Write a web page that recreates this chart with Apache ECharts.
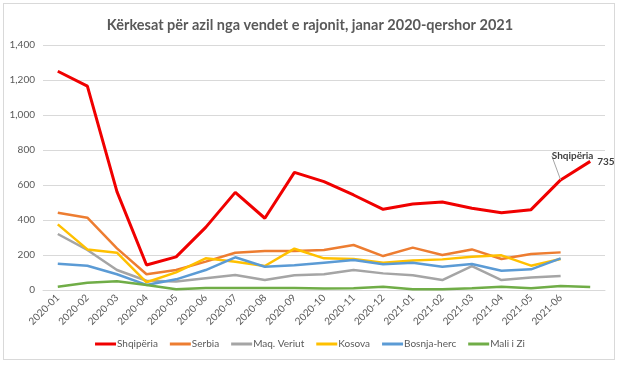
<!DOCTYPE html>
<html>
<head>
<meta charset="utf-8">
<script src="https://cdn.jsdelivr.net/npm/echarts@6/dist/echarts.min.js"></script>
<style>
html,body{margin:0;padding:0;background:#fff;}
#frame{position:absolute;left:3px;top:3px;width:612px;height:357px;border:1px solid #d9d9d9;box-sizing:border-box;}
#chart{position:absolute;left:0;top:0;width:620px;height:365px;}
</style>
</head>
<body>
<div id="frame"></div>
<div id="chart"></div>
<script>
const categories = ['2020-01','2020-02','2020-03','2020-04','2020-05','2020-06','2020-07','2020-08','2020-09','2020-10','2020-11','2020-12','2021-01','2021-02','2021-03','2021-04','2021-05','2021-06',''];
const shqiperia = [1250,1165,562,143,189,358,558,410,672,619,543,461,491,503,467,442,459,629,735];
const serbia = [442,413,238,90,114,162,213,223,223,229,257,194,242,200,232,177,206,215];
const maqVeriut = [320,229,114,53,48,67,86,57,84,90,114,95,84,57,137,57,72,80];
const kosova = [375,232,213,44,101,181,162,137,236,181,177,156,168,175,190,198,139,177];
const bosnja = [150,139,90,29,61,114,187,133,141,156,171,147,156,133,149,110,118,181];
const maliZi = [19,42,50,29,4,11,11,11,11,8,10,19,4,4,10,19,10,23,17];
const seriesNames = ['Shqipëria','Serbia','Maq. Veriut','Kosova','Bosnja-herc','Mali i Zi'];
const colors = ['#f00000','#ed7d31','#a5a5a5','#ffc000','#5b9bd5','#70ad47'];
const yTicks = {min:0, max:1400, interval:200};

const FONT = 'Lato, "Open Sans", sans-serif';
const redData = shqiperia.map((v,i)=>{
  if(i===shqiperia.length-2){
    return {value:v, label:{show:true, formatter:seriesNames[0], position:'top', distance:2, fontSize:10, fontWeight:'bold', color:'#404040', fontFamily:FONT}, labelLine:{show:true, lineStyle:{color:'#a5a5a5', width:1}}};
  }
  if(i===shqiperia.length-1){
    return {value:v, label:{show:true, formatter:'{c}', position:'right', distance:7, fontSize:10, fontWeight:'bold', color:'#404040', fontFamily:FONT}};
  }
  return v;
});
const allData=[redData,serbia,maqVeriut,kosova,bosnja,maliZi];

const chart = echarts.init(document.getElementById('chart'), null, {renderer:'canvas'});
chart.setOption({
  animation:false,
  title:{text:'Kërkesat për azil nga vendet e rajonit, janar 2020-qershor 2021', left:'center', top:13,
    textStyle:{fontFamily:FONT, fontSize:14.5, fontWeight:'bold', color:'#595959'}},
  grid:{left:43, right:15, top:45, bottom:75, containLabel:false},
  legend:{bottom:11, left:'center', itemWidth:21, itemHeight:3, itemGap:12, icon:'rect',
    textStyle:{fontFamily:FONT, fontSize:10, color:'#595959', padding:[0,0,0,-4]},
    data:seriesNames},
  xAxis:{type:'category', data:categories, boundaryGap:true,
    axisLine:{show:true, lineStyle:{color:'#d9d9d9'}}, axisTick:{show:false},
    axisLabel:{rotate:45, interval:0, fontFamily:FONT, fontSize:10, color:'#595959', margin:6}},
  yAxis:{type:'value', min:yTicks.min, max:yTicks.max, interval:yTicks.interval,
    axisLine:{show:false}, axisTick:{show:false},
    splitLine:{lineStyle:{color:'#d9d9d9', width:1}},
    axisLabel:{fontFamily:FONT, fontSize:10, color:'#595959', margin:8,
      formatter:v=>v.toLocaleString('en-US')}},
  series:allData.map((d,i)=>({
    name:seriesNames[i], type:'line', data:d,
    showSymbol: i===0, symbol: 'circle', symbolSize: 0,
    color:colors[i],
    lineStyle:{width:i===0?3:2.5, color:colors[i]},
    labelLayout: i===0 ? function(p){ return p.dataIndex===shqiperia.length-2 ? {dx:12, dy:-17} : {}; } : undefined
  }))
});
</script>
</body>
</html>
